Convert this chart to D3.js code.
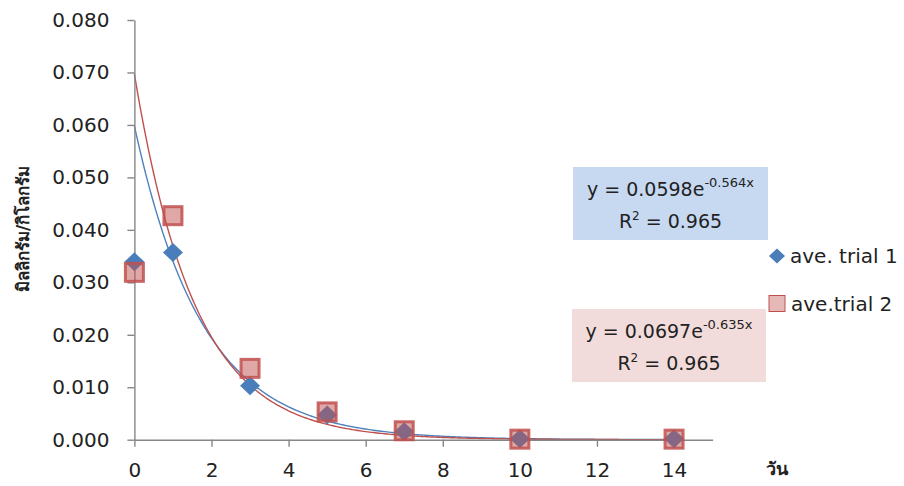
<!DOCTYPE html>
<html>
<head>
<meta charset="utf-8">
<script src="https://cdn.jsdelivr.net/npm/d3@7"></script>
<style>
  body { margin: 0; background: #fff; }
  text { font-family: "DejaVu Sans", sans-serif; fill: #222; }
</style>
</head>
<body>
<div id="chart"></div>
<script>
// data
const days = [0, 1, 3, 5, 7, 10, 14];
const trial1 = [0.0339, 0.0357, 0.0103, 0.0047, 0.0015, 0.0002, 0.0002];
const trial2 = [0.0319, 0.0427, 0.0136, 0.0053, 0.0017, 0.0001, 0.0001];
const seriesNames = ["ave. trial 1", "ave.trial 2"];
// exponential trendline y = a * e^(b x)
const fitA = [0.0598, 0.0697];
const fitB = [-0.564, -0.635];
const fitEq = [["0.0598", "-0.564x"], ["0.0697", "-0.635x"]];
const r2 = ["0.965", "0.965"];
const xTicks = [0, 2, 4, 6, 8, 10, 12, 14];
const yTicks = [0, 0.01, 0.02, 0.03, 0.04, 0.05, 0.06, 0.07, 0.08];

const W = 904, H = 486;
const svg = d3.select("#chart").append("svg")
    .attr("width", W).attr("height", H);

const x = d3.scaleLinear().domain([0, 15]).range([134.4, 712.6]);
const y = d3.scaleLinear().domain([0, 0.08]).range([439.7, 20]);

const axisColor = "#868686";

// trendlines
const line = d3.line().x(d => x(d[0])).y(d => y(d[1]));
const lineColors = ["#4F81BD", "#C0504D"];
[0, 1].forEach(i => {
    const pts = d3.range(0, 14.01, 0.05).map(t => [t, fitA[i] * Math.exp(fitB[i] * t)]);
    svg.append("path")
        .datum(pts)
        .attr("d", line)
        .attr("fill", "none")
        .attr("stroke", lineColors[i])
        .attr("stroke-width", 1.4);
});

// y axis
const yAxis = svg.append("g")
    .attr("transform", "translate(" + x(0) + ",0)")
    .call(d3.axisLeft(y).tickValues(yTicks).tickFormat(d3.format(".3f")).tickSize(7).tickSizeOuter(0).tickPadding(18));
yAxis.selectAll("text").style("font-size", "20px").attr("font-family", null);

// x axis
const xAxis = svg.append("g")
    .attr("transform", "translate(0," + y(0) + ")")
    .call(d3.axisBottom(x).tickValues(xTicks).tickSize(7).tickSizeOuter(0).tickPadding(16));
xAxis.selectAll("text").style("font-size", "20px").attr("font-family", null);

[yAxis, xAxis].forEach(g => {
    g.select(".domain").attr("stroke", axisColor).attr("stroke-width", 1.4);
    g.selectAll(".tick line").attr("stroke", axisColor).attr("stroke-width", 1.4);
});

// markers: diamonds first, squares on top
const diamond = (cx, cy, rx, ry) => "M" + cx + "," + (cy - ry) + "L" + (cx + rx) + "," + cy +
    "L" + cx + "," + (cy + ry) + "L" + (cx - rx) + "," + cy + "Z";

svg.append("g").selectAll("path")
    .data(days.map((d, i) => [d, trial1[i]]))
    .join("path")
    .attr("d", d => diamond(x(d[0]), y(d[1]), 10, 9.5))
    .attr("fill", "#4A7EBB");

svg.append("g").selectAll("rect")
    .data(days.map((d, i) => [d, trial2[i]]))
    .join("rect")
    .attr("x", d => x(d[0]) - 9)
    .attr("y", d => y(d[1]) - 9)
    .attr("width", 18)
    .attr("height", 18)
    .attr("fill", "rgba(192,80,77,0.5)")
    .attr("stroke", "rgba(192,80,77,0.85)")
    .attr("stroke-width", 3);

// equation boxes
const boxes = [
    {x: 573, y: 167, w: 195, h: 73, fill: "#C6D9F1"},
    {x: 572, y: 309, w: 194, h: 73, fill: "#F2DCDB"}
];
boxes.forEach((b, i) => {
    const g = svg.append("g");
    g.append("rect").attr("x", b.x).attr("y", b.y).attr("width", b.w).attr("height", b.h).attr("fill", b.fill);
    const t1 = g.append("text")
        .attr("x", b.x + b.w / 2).attr("y", b.y + 29)
        .attr("text-anchor", "middle")
        .style("font-size", "19px");
    t1.append("tspan").text("y = " + fitEq[i][0] + "e");
    t1.append("tspan").attr("dy", -9).style("font-size", "13px").text(fitEq[i][1]);
    const t2 = g.append("text")
        .attr("x", b.x + b.w / 2).attr("y", b.y + 61)
        .attr("text-anchor", "middle")
        .style("font-size", "19px");
    t2.append("tspan").text("R");
    t2.append("tspan").attr("dy", -8).style("font-size", "12px").text("2");
    t2.append("tspan").attr("dy", 8).text(" = " + r2[i]);
});

// legend
const leg = svg.append("g");
leg.append("path").attr("d", diamond(777, 256, 8, 7.5)).attr("fill", "#4A7EBB");
leg.append("text").attr("x", 790).attr("y", 263).style("font-size", "20px").text(seriesNames[0]);
leg.append("rect").attr("x", 769).attr("y", 295.5).attr("width", 16).attr("height", 16)
    .attr("fill", "#E6B9B8").attr("stroke", "#C0504D").attr("stroke-width", 1);
leg.append("text").attr("x", 791).attr("y", 311).style("font-size", "20px").text(seriesNames[1]);

// axis titles
svg.append("text")
    .attr("transform", "translate(29,229) rotate(-90)")
    .attr("text-anchor", "middle")
    .style("font-size", "17px").style("font-weight", "bold")
    .text("มิลลิกรัม/กิโลกรัม");
svg.append("text")
    .attr("x", 777).attr("y", 475)
    .attr("text-anchor", "middle")
    .style("font-size", "18px").style("font-weight", "bold")
    .text("วัน");
</script>
</body>
</html>
